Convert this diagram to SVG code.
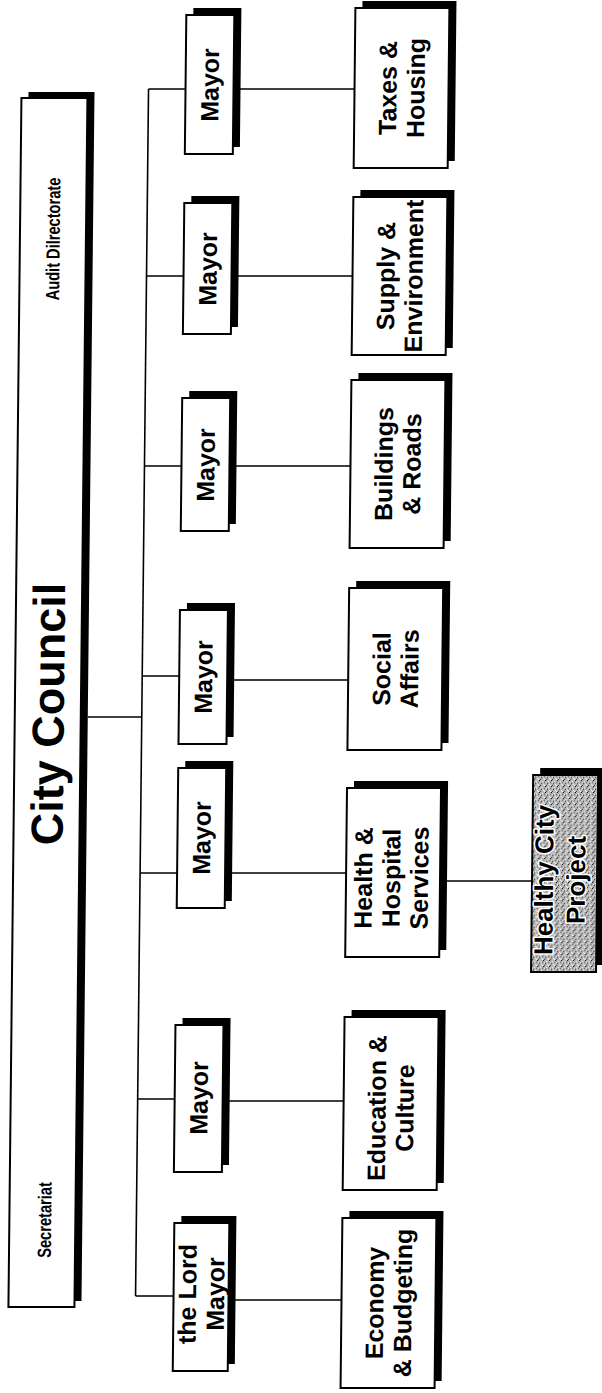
<svg xmlns="http://www.w3.org/2000/svg" width="602" height="1393" viewBox="0 0 602 1393">
<defs>
<style>
.box{fill:#fff;stroke:#000;stroke-width:2}
.sh{fill:#000}
.ln{stroke:#000;stroke-width:1.6;fill:none}
.t{font-family:"Liberation Sans",Arial,Helvetica,sans-serif;font-weight:bold;fill:#000;text-anchor:middle}
.m{font-size:25px}
.d{font-size:25px}
.s{font-size:19px}
.big{font-size:45px}
.hc{font-size:26px;stroke:#fff;stroke-width:3;paint-order:stroke;stroke-linejoin:round}
</style>
<pattern id="stip" width="6" height="6" patternUnits="userSpaceOnUse">
<rect width="6" height="6" fill="#b8b8b8"/>
<rect x="0" y="0" width="1" height="1" fill="#000"/>
<rect x="3" y="1" width="1" height="1" fill="#fff"/>
<rect x="2" y="3" width="1" height="1" fill="#000"/>
<rect x="5" y="2" width="1" height="1" fill="#444"/>
<rect x="4" y="4" width="1" height="1" fill="#fff"/>
<rect x="1" y="5" width="1" height="1" fill="#333"/>
<rect x="5" y="5" width="1" height="1" fill="#fff"/>
<rect x="1" y="2" width="1" height="1" fill="#eee"/>
</pattern>
</defs>
<rect width="602" height="1393" fill="#fff"/>
<g transform="translate(301,696) skewX(-0.616) translate(-301,-696)">

<g id="connectors">
<path class="ln" d="M142,89 V1296"/>
<path class="ln" d="M88,717 H142"/>
<path class="ln" d="M142,89 H179 M227,89 H348"/>
<path class="ln" d="M142,276 H179 M227,276 H348"/>
<path class="ln" d="M142,466 H179 M227,466 H348"/>
<path class="ln" d="M142,676 H179 M227,680 H348"/>
<path class="ln" d="M142,873 H179 M227,873 H348"/>
<path class="ln" d="M142,1099 H179 M227,1101 H348"/>
<path class="ln" d="M142,1296 H201 V1223 M235,1300 H348"/>
<path class="ln" d="M442,881 H534"/>
</g>

<g id="city-council">
<rect class="sh" x="22" y="92" width="66" height="1209"/>
<rect class="box" x="15" y="98" width="66" height="1209"/>
<text class="t big" transform="translate(48,714) rotate(-90)" y="16">City Council</text>
<text class="t s" transform="translate(48,239) rotate(-90) scale(0.77,1)" y="6.8">Audit Dilrectorate</text>
<text class="t s" transform="translate(50,1220) rotate(-90) scale(0.77,1)" y="6.8">Secretariat</text>
</g>

<g id="mayor-1">
<rect class="sh" x="186" y="8" width="48" height="139"/>
<rect class="box" x="179" y="15" width="48" height="139"/>
<text class="t m" transform="translate(203,85) rotate(-90)" y="9">Mayor</text>
</g>
<g id="mayor-2">
<rect class="sh" x="186" y="196" width="48" height="131"/>
<rect class="box" x="179" y="203" width="48" height="131"/>
<text class="t m" transform="translate(203,269) rotate(-90)" y="9">Mayor</text>
</g>
<g id="mayor-3">
<rect class="sh" x="186" y="391" width="48" height="133"/>
<rect class="box" x="179" y="398" width="48" height="133"/>
<text class="t m" transform="translate(203,465) rotate(-90)" y="9">Mayor</text>
</g>
<g id="mayor-4">
<rect class="sh" x="186" y="603" width="48" height="134"/>
<rect class="box" x="179" y="610" width="48" height="134"/>
<text class="t m" transform="translate(203,677) rotate(-90)" y="9">Mayor</text>
</g>
<g id="mayor-5">
<rect class="sh" x="186" y="761" width="48" height="140"/>
<rect class="box" x="179" y="768" width="48" height="140"/>
<text class="t m" transform="translate(203,838) rotate(-90)" y="9">Mayor</text>
</g>
<g id="mayor-6">
<rect class="sh" x="186" y="1018" width="48" height="147"/>
<rect class="box" x="179" y="1025" width="48" height="147"/>
<text class="t m" transform="translate(203,1098) rotate(-90)" y="9">Mayor</text>
</g>
<g id="lord-mayor">
<rect class="sh" x="187" y="1216" width="55" height="148"/>
<rect class="box" x="180" y="1223" width="55" height="148"/>
<text class="t d" transform="translate(207.5,1294) rotate(-90)"><tspan x="0" y="-5">the Lord</tspan><tspan x="0" y="23">Mayor</tspan></text>
</g>

<g id="taxes-housing">
<rect class="sh" x="355" y="1" width="94" height="160"/>
<rect class="box" x="348" y="8" width="94" height="160"/>
<text class="t d" transform="translate(395,88) rotate(-90)"><tspan x="0" y="-5">Taxes &amp;</tspan><tspan x="0" y="23">Housing</tspan></text>
</g>
<g id="supply-environment">
<rect class="sh" x="355" y="190" width="94" height="158"/>
<rect class="box" x="348" y="197" width="94" height="158"/>
<text class="t d" transform="translate(395,276) rotate(-90)"><tspan x="0" y="-5">Supply &amp;</tspan><tspan x="0" y="23">Environment</tspan></text>
</g>
<g id="buildings-roads">
<rect class="sh" x="355" y="373" width="94" height="168"/>
<rect class="box" x="348" y="380" width="94" height="168"/>
<text class="t d" transform="translate(395,464) rotate(-90)"><tspan x="0" y="-5">Buildings</tspan><tspan x="0" y="23">&amp; Roads</tspan></text>
</g>
<g id="social-affairs">
<rect class="sh" x="355" y="581" width="94" height="162"/>
<rect class="box" x="348" y="588" width="94" height="162"/>
<text class="t d" transform="translate(395,669) rotate(-90)"><tspan x="0" y="-5">Social</tspan><tspan x="0" y="23">Affairs</tspan></text>
</g>
<g id="health-hospital">
<rect class="sh" x="355" y="781" width="94" height="169"/>
<rect class="box" x="348" y="788" width="94" height="169"/>
<text class="t d" transform="translate(393,878) rotate(-90)"><tspan x="0" y="-19">Health &amp;</tspan><tspan x="0" y="9">Hospital</tspan><tspan x="0" y="37">Services</tspan></text>
</g>
<g id="education-culture">
<rect class="sh" x="355" y="1010" width="94" height="173"/>
<rect class="box" x="348" y="1017" width="94" height="173"/>
<text class="t d" transform="translate(395,1108) rotate(-90)"><tspan x="0" y="-5">Education &amp;</tspan><tspan x="0" y="23">Culture</tspan></text>
</g>
<g id="economy-budgeting">
<rect class="sh" x="355" y="1211" width="94" height="170"/>
<rect class="box" x="348" y="1218" width="94" height="170"/>
<text class="t d" transform="translate(395,1303) rotate(-90)"><tspan x="0" y="-5">Economy</tspan><tspan x="0" y="23">&amp; Budgeting</tspan></text>
</g>

<g id="healthy-city-project">
<rect class="sh" x="541" y="768" width="65" height="197"/>
<rect x="534" y="775" width="65" height="197" fill="url(#stip)" stroke="#000" stroke-width="2"/>
<text class="t hc" transform="translate(566.5,880) rotate(-90)"><tspan x="0" y="-11.5">Healthy City</tspan><tspan x="0" y="20.5">Project</tspan></text>
</g>

</g>
</svg>
